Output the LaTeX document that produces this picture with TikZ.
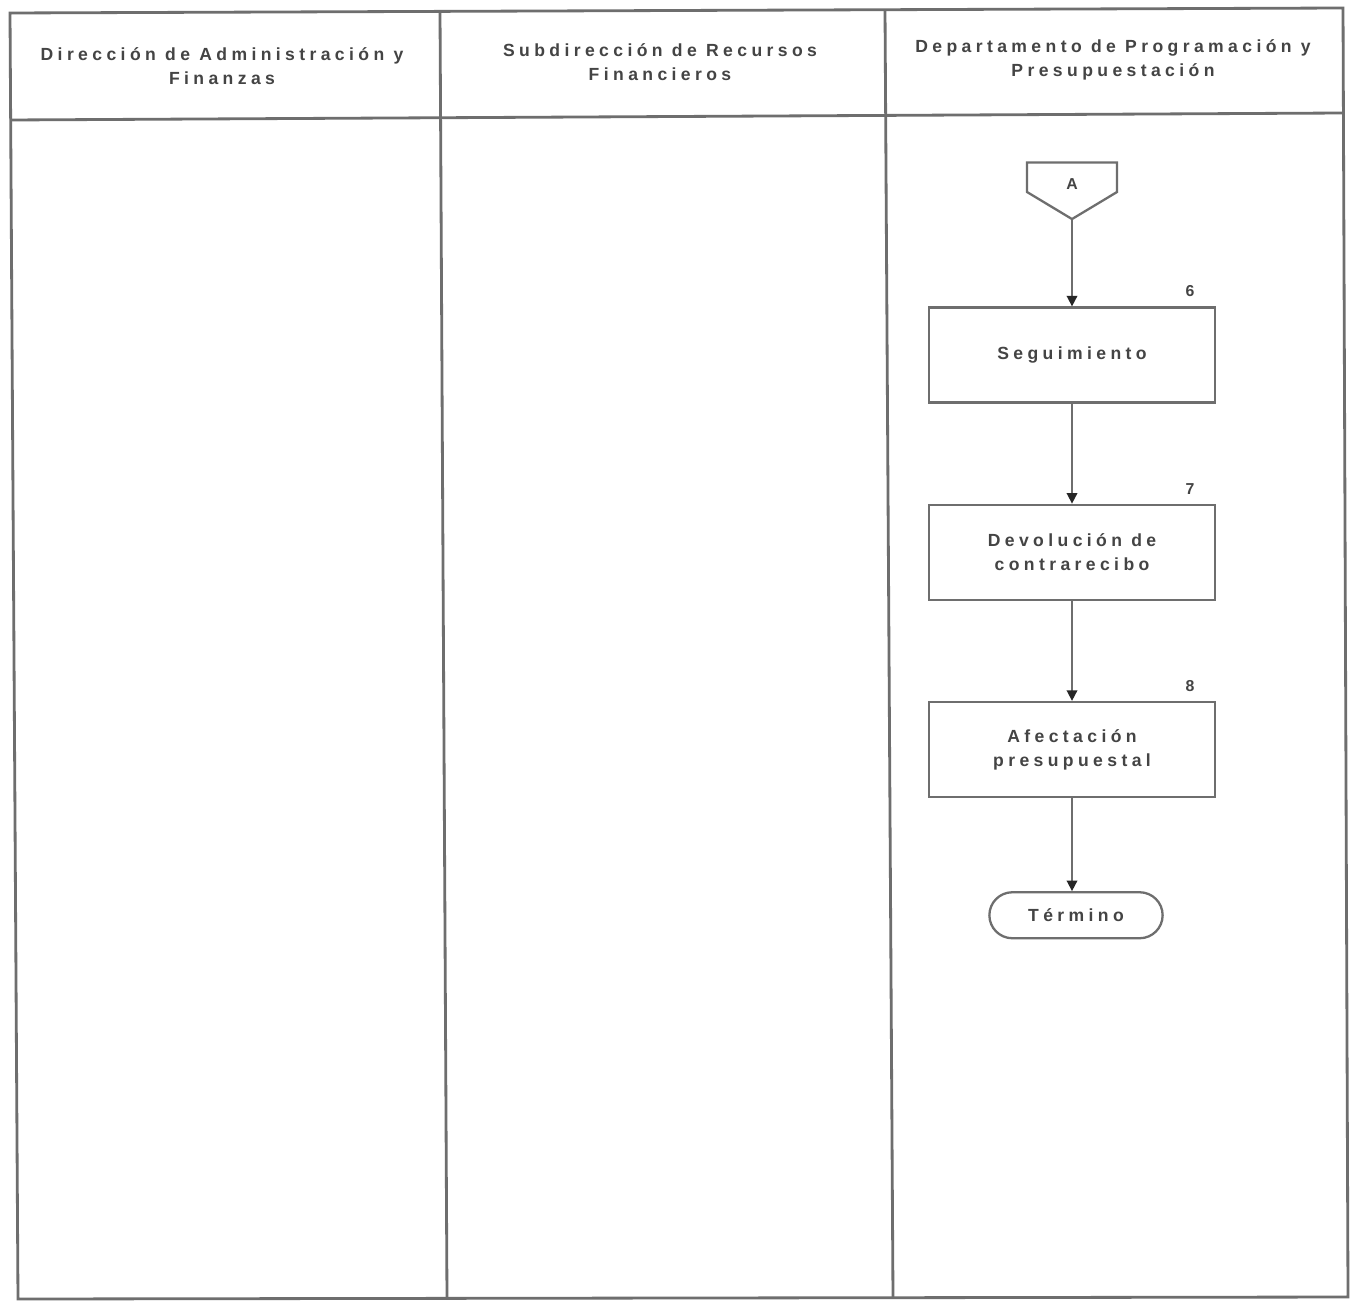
\documentclass[tikz,border=0pt]{standalone}
\usepackage{fontspec}
\setmainfont{Liberation Sans}[LetterSpace=25]
\usepackage{tikz}
\usetikzlibrary{arrows.meta,positioning,shapes.symbols,shapes.misc}
\definecolor{Ink}{HTML}{444444}
\definecolor{Rule}{HTML}{6E6E6E}

\begin{document}
\begin{tikzpicture}[x=0.02cm,y=-0.02cm,node distance=2cm,
    lane/.style={draw=Rule,line width=1.6pt},
    lanehead/.style={align=center,text=Ink,font=\bfseries\fontsize{10}{13.6}\selectfont},
    procbox/.style={draw=Rule,line width=1.3pt,minimum width=5.72cm,minimum height=1.9cm,
      align=center,text=Ink,font=\bfseries\fontsize{10}{13.6}\selectfont},
    numlbl/.style={text=Ink,font=\bfseries\fontsize{9}{11}\selectfont},
    flow/.style={draw=Rule,line width=1pt,-{Triangle[length=6pt,width=6pt,color=black!85]}}]
    \useasboundingbox (0,0) rectangle (1351,1304);
    \fill[white] (0,0) rectangle (1351,1304);
    % swimlane frame
    \coordinate (tl) at (10,13);
    \coordinate (tr) at (1343,8);
    \coordinate (bl) at (18,1299);
    \coordinate (br) at (1348,1297);
    \draw[lane] (tl) -- (tr) -- (br) -- (bl) -- cycle;
    \draw[lane] (10,120) -- (1343,113);
    \draw[lane] (440,12) -- (447,1299);
    \draw[lane] (885,10) -- (893,1298);
    % lane titles
    \node[lanehead] (hdir) at (222,66) {Dirección de Administración y\\Finanzas};
    \node[lanehead] (hsub) at (660,62) {Subdirección de Recursos\\Financieros};
    \node[lanehead] (hdep) at (1113,60) {Departamento de Programación y\\Presupuestación};
    % flow
    \node[procbox] (seg) at (1072,355) {Seguimiento};
    \node[draw=Rule,line width=1.3pt,signal,signal to=south,signal pointer angle=118,
      minimum width=1.8cm,minimum height=0.66cm,inner sep=0pt,text height=0.5cm,text depth=0pt,
      text=Ink,font=\bfseries\fontsize{9}{11}\selectfont,above=1.72cm of seg] (offA) {A};
    \node[procbox,below=of seg] (dev) {Devolución de\\contrarecibo};
    \node[procbox,below=of dev] (afe) {Afectación\\presupuestal};
    \node[draw=Rule,line width=1.3pt,rounded rectangle,minimum width=3.7cm,minimum height=0.92cm,
      text=Ink,font=\bfseries\fontsize{10}{13.6}\selectfont,below=1.86cm of afe,xshift=0.08cm] (fin) {Término};
    \node[numlbl] (n6) at ([xshift=-0.52cm,yshift=0.3cm]seg.north east) {6};
    \node[numlbl] (n7) at ([xshift=-0.52cm,yshift=0.3cm]dev.north east) {7};
    \node[numlbl] (n8) at ([xshift=-0.52cm,yshift=0.3cm]afe.north east) {8};
    \draw[flow] (offA.south) -- (seg.north);
    \draw[flow] (seg) -- (dev);
    \draw[flow] (dev) -- (afe);
    \draw[flow] (afe.south) -- (afe.south |- fin.north);
  \end{tikzpicture}
\end{document}
